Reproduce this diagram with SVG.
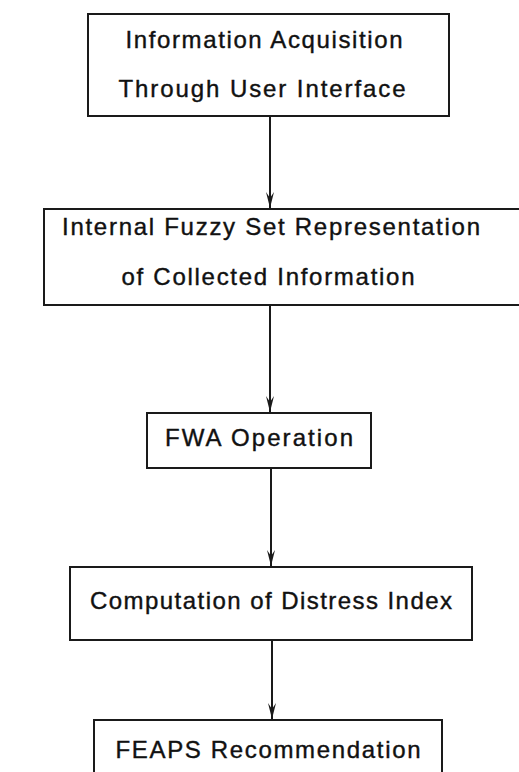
<svg xmlns="http://www.w3.org/2000/svg" width="519" height="772" viewBox="0 0 519 772">
<style>
  .box { fill: #fff; stroke: #1a1a1a; stroke-width: 2; }
  .lbl { font-family: "Liberation Sans", "DejaVu Sans", sans-serif; font-size: 24px; fill: #111; text-anchor: middle; stroke: #111; stroke-width: 0.4; }
  .conn { stroke: #1a1a1a; stroke-width: 2; fill: none; }
</style>
<defs>
  <marker id="arr" markerWidth="18" markerHeight="10" refX="16" refY="5" orient="auto" markerUnits="userSpaceOnUse" viewBox="0 0 18 10">
    <path d="M0,1 L16,5 L0,9 L6,5 Z" fill="#1a1a1a"/>
  </marker>
</defs>
<rect width="519" height="772" fill="#fff"/>
<g id="node-acquisition">
  <rect class="box" x="88" y="14" width="361" height="102"/>
  <text class="lbl" x="264" y="48" textLength="277" lengthAdjust="spacing">Information Acquisition</text>
  <text class="lbl" x="262" y="97" textLength="287" lengthAdjust="spacing">Through User Interface</text>
</g>
<g id="node-fuzzy">
  <rect class="box" x="44" y="209" width="490" height="96"/>
  <text class="lbl" x="271" y="235" textLength="418" lengthAdjust="spacing">Internal Fuzzy Set Representation</text>
  <text class="lbl" x="268" y="285" textLength="293" lengthAdjust="spacing">of Collected Information</text>
</g>
<g id="node-fwa">
  <rect class="box" x="147" y="413" width="224" height="55"/>
  <text class="lbl" x="259" y="446" textLength="188" lengthAdjust="spacing">FWA Operation</text>
</g>
<g id="node-distress">
  <rect class="box" x="70" y="567" width="402" height="73"/>
  <text class="lbl" x="271" y="609" textLength="362" lengthAdjust="spacing">Computation of Distress Index</text>
</g>
<g id="node-feaps">
  <rect class="box" x="94" y="720" width="348" height="70"/>
  <text class="lbl" x="268" y="758" textLength="305" lengthAdjust="spacing">FEAPS Recommendation</text>
</g>
<g id="connectors">
  <line class="conn" x1="270" y1="116" x2="270" y2="208" marker-end="url(#arr)"/>
  <line class="conn" x1="270" y1="305" x2="270" y2="412" marker-end="url(#arr)"/>
  <line class="conn" x1="271" y1="468" x2="271" y2="566" marker-end="url(#arr)"/>
  <line class="conn" x1="272" y1="640" x2="272" y2="719" marker-end="url(#arr)"/>
</g>
</svg>
